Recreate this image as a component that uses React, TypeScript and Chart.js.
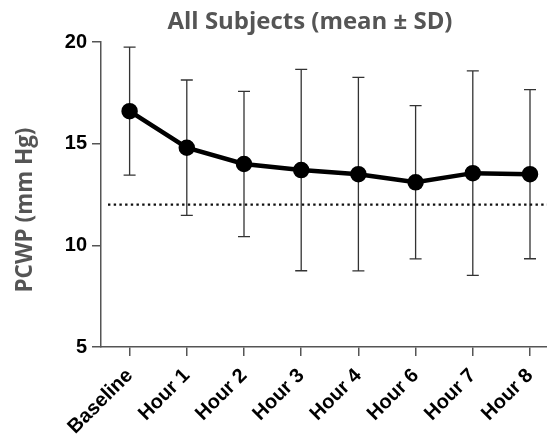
import React, { useEffect, useRef } from "react";
import { Chart, registerables } from "chart.js";

Chart.register(...registerables);

const categories = ["Baseline", "Hour 1", "Hour 2", "Hour 3", "Hour 4", "Hour 6", "Hour 7", "Hour 8"];
const meanValues = [16.6, 14.8, 14.0, 13.7, 13.5, 13.1, 13.55, 13.5];
const sdValues = [3.15, 3.33, 3.57, 4.95, 4.76, 3.77, 5.03, 4.16];
const referenceValue = 12;
const yMin = 5;
const yMax = 20;
const yStep = 5;
const titleText = "All Subjects (mean \u00b1 SD)";
const yTitleText = "PCWP (mm Hg)";

const TICK_FONT = "'Liberation Sans', Arial, sans-serif";
const TITLE_FONT = "'Open Sans', 'DejaVu Sans', sans-serif";

const errorBarPlugin = {
  id: "errorBars",
  beforeDatasetsDraw(chart: any) {
    const { ctx, scales } = chart;
    const meta = chart.getDatasetMeta(0);
    ctx.save();
    ctx.strokeStyle = "#333";
    ctx.lineWidth = 1.3;
    meta.data.forEach((pt: any, i: number) => {
      const x = pt.x;
      const yTop = scales.y.getPixelForValue(meanValues[i] + sdValues[i]);
      const yBot = scales.y.getPixelForValue(meanValues[i] - sdValues[i]);
      ctx.beginPath();
      ctx.moveTo(x, yTop);
      ctx.lineTo(x, yBot);
      ctx.moveTo(x - 6, yTop);
      ctx.lineTo(x + 6, yTop);
      ctx.moveTo(x - 6, yBot);
      ctx.lineTo(x + 6, yBot);
      ctx.stroke();
    });
    // dotted reference line
    const yRef = scales.y.getPixelForValue(referenceValue);
    ctx.strokeStyle = "#111";
    ctx.lineWidth = 2.4;
    ctx.setLineDash([2.4, 3.3]);
    ctx.beginPath();
    ctx.moveTo(chart.chartArea.left + 7, yRef);
    ctx.lineTo(chart.chartArea.right, yRef);
    ctx.stroke();
    ctx.restore();
  },
};

function fitFont(ctx: CanvasRenderingContext2D, text: string, family: string, target: number) {
  let size = 20;
  ctx.font = `bold ${size}px ${family}`;
  const w = ctx.measureText(text).width;
  size = (size * target) / w;
  return `bold ${size.toFixed(2)}px ${family}`;
}

const titlesPlugin = {
  id: "titles",
  afterDraw(chart: any) {
    const { ctx } = chart;
    ctx.save();
    ctx.fillStyle = "#555";
    ctx.font = fitFont(ctx, titleText, TITLE_FONT, 285);
    ctx.textAlign = "center";
    ctx.textBaseline = "alphabetic";
    ctx.fillText(titleText, 310, 29);
    ctx.font = fitFont(ctx, yTitleText, TITLE_FONT, 165);
    ctx.translate(32, 210);
    ctx.rotate(-Math.PI / 2);
    ctx.fillText(yTitleText, 0, 0);
    ctx.restore();
  },
};

export default function App() {
  const canvasRef = useRef<HTMLCanvasElement | null>(null);

  useEffect(() => {
    if (!canvasRef.current) return;
    const chart = new Chart(canvasRef.current, {
      type: "line",
      data: {
        labels: categories,
        datasets: [
          {
            data: meanValues,
            borderColor: "#000",
            backgroundColor: "#000",
            borderWidth: 4.5,
            pointRadius: 6,
            pointHoverRadius: 6,
            pointBackgroundColor: "#000",
            pointBorderColor: "#000",
            tension: 0,
          },
        ],
      },
      options: {
        responsive: false,
        animation: false,
        devicePixelRatio: 1,
        layout: { padding: { top: 42, right: 21.4, left: 0, bottom: 0 } },
        plugins: {
          legend: { display: false },
          tooltip: { enabled: false },
          title: { display: false },
        },
        scales: {
          x: {
            type: "category",
            offset: true,
            grid: { display: true, drawOnChartArea: false, drawTicks: true, tickLength: 9, color: "#555", lineWidth: 1.5 },
            border: { display: true, color: "#555", width: 1.5 },
            ticks: {
              color: "#000",
              font: { family: TICK_FONT, size: 20, weight: "bold" },
              minRotation: 45,
              maxRotation: 45,
              padding: 8,
              autoSkip: false,
            },
            afterFit(scale: any) {
              scale.height = 94;
            },
          },
          y: {
            min: yMin,
            max: yMax,
            grid: { display: true, drawOnChartArea: false, drawTicks: true, tickLength: 9, color: "#555", lineWidth: 1.5 },
            border: { display: true, color: "#555", width: 1.5 },
            ticks: {
              stepSize: yStep,
              color: "#000",
              font: { family: TICK_FONT, size: 20, weight: "bold" },
              padding: 5,
            },
            afterFit(scale: any) {
              scale.width = 101;
            },
          },
        },
      },
      plugins: [errorBarPlugin, titlesPlugin],
    });
    return () => chart.destroy();
  }, []);

  return (
    <div
      style={{
        position: "absolute",
        left: 0,
        top: 0,
        width: 547,
        height: 441,
        overflow: "hidden",
        background: "#fff",
      }}
    >
      <canvas ref={canvasRef} width={580} height={441} style={{ display: "block" }} />
    </div>
  );
}
